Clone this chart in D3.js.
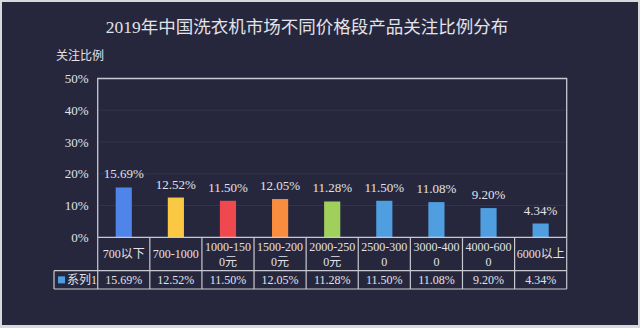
<!DOCTYPE html>
<html>
<head>
<meta charset="utf-8">
<script src="https://cdn.jsdelivr.net/npm/d3@7/dist/d3.min.js"></script>
<style>
  html, body { margin: 0; padding: 0; background: #d8d8dd; }
  svg { display: block; }
</style>
</head>
<body>
<svg id="chart" width="640" height="328"></svg>
<script>
// Price segments, attention share (%) and per-bar colours
const categories = ["700以下", "700-1000", "1000-1500元", "1500-2000元", "2000-2500元", "2500-3000", "3000-4000", "4000-6000", "6000以上"];
const values = [15.69, 12.52, 11.50, 12.05, 11.28, 11.50, 11.08, 9.20, 4.34];
const barColors = ["#4f84e8", "#fbc843", "#f0484f", "#f88c3f", "#a1cf5b", "#4f9fe0", "#4f9fe0", "#4f9fe0", "#4f9fe0"];
const yTicks = [0, 10, 20, 30, 40, 50];
const seriesName = "系列1";
const chartTitle = "2019年中国洗衣机市场不同价格段产品关注比例分布";
const yTitle = "关注比例";

const FONT = "'Liberation Serif', 'Noto Sans CJK SC', serif";
const TXT = "#e2e2e8";
const LINE = "#c9c9d2";

const svg = d3.select("#chart");

// outer frame
svg.append("rect").attr("x", 0).attr("y", 0).attr("width", 640).attr("height", 328).attr("fill", "#d8d8dd");
svg.append("rect").attr("x", 2).attr("y", 2).attr("width", 636).attr("height", 323).attr("fill", "#26273d");

const plot = { left: 97.7, right: 566.7, top: 78.5, bottom: 237.3 };
const rowCat = { top: 237.3, bottom: 270.7 };
const rowVal = { top: 270.7, bottom: 289 };
const legendLeft = 54;

const x = d3.scaleBand().domain(categories).range([plot.left, plot.right]).padding(0);
const y = d3.scaleLinear().domain([0, 50]).range([plot.bottom, plot.top]);

// title
svg.append("text")
  .attr("x", 307).attr("y", 33)
  .attr("text-anchor", "middle")
  .attr("fill", TXT)
  .style("font-family", FONT)
  .style("font-size", "17.5px")
  .text(chartTitle);

// axis title
svg.append("text")
  .attr("x", 56).attr("y", 60)
  .attr("fill", TXT)
  .style("font-family", FONT)
  .style("font-size", "12px")
  .text(yTitle);

// grid lines
svg.append("g")
  .selectAll("line")
  .data(yTicks.filter(t => t > 0 && t < 50))
  .join("line")
  .attr("x1", plot.left).attr("x2", plot.right)
  .attr("y1", d => y(d)).attr("y2", d => y(d))
  .attr("stroke", "#33344c").attr("stroke-width", 1);

// y axis labels
const yAxis = d3.axisLeft(y).tickValues(yTicks).tickFormat(d => d + "%").tickSize(0).tickPadding(9);
const ya = svg.append("g").attr("transform", `translate(${plot.left},0)`).call(yAxis);
ya.select(".domain").remove();
ya.selectAll("text")
  .attr("fill", TXT)
  .style("font-family", FONT)
  .style("font-size", "13px");

// bars
const barW = x.bandwidth() * 0.31;
svg.append("g")
  .selectAll("rect")
  .data(values)
  .join("rect")
  .attr("x", (d, i) => x(categories[i]) + x.bandwidth() / 2 - barW / 2)
  .attr("width", barW)
  .attr("y", d => y(d))
  .attr("height", d => y(0) - y(d))
  .attr("fill", (d, i) => barColors[i]);

// data labels
svg.append("g")
  .selectAll("text")
  .data(values)
  .join("text")
  .attr("x", (d, i) => x(categories[i]) + x.bandwidth() / 2)
  .attr("y", d => y(d) - 9)
  .attr("text-anchor", "middle")
  .attr("fill", TXT)
  .style("font-family", FONT)
  .style("font-size", "13px")
  .text(d => d.toFixed(2) + "%");

// plot frame (top, left, right)
svg.append("path")
  .attr("d", `M${plot.left},${plot.bottom}V${plot.top}H${plot.right}V${plot.bottom}`)
  .attr("fill", "none").attr("stroke", LINE).attr("stroke-width", 1.3);

// data table grid
const tg = svg.append("g").attr("stroke", LINE).attr("stroke-width", 1.2).attr("fill", "none");
tg.append("line").attr("x1", plot.left).attr("x2", plot.right).attr("y1", rowCat.top).attr("y2", rowCat.top);
tg.append("line").attr("x1", legendLeft).attr("x2", plot.right).attr("y1", rowVal.top).attr("y2", rowVal.top);
tg.append("line").attr("x1", legendLeft).attr("x2", plot.right).attr("y1", rowVal.bottom).attr("y2", rowVal.bottom);
tg.append("line").attr("x1", legendLeft).attr("x2", legendLeft).attr("y1", rowVal.top).attr("y2", rowVal.bottom);
tg.selectAll(".col")
  .data(categories.map(c => x(c)).concat([plot.right]))
  .join("line")
  .attr("x1", d => d).attr("x2", d => d)
  .attr("y1", rowCat.top).attr("y2", rowVal.bottom);

// category labels, wrapped every 8 characters
function wrap(s) {
  const arr = Array.from(s);
  if (arr.length <= 8) return [s];
  return [arr.slice(0, 8).join(""), arr.slice(8).join("")];
}
const catG = svg.append("g");
categories.forEach(c => {
  const lines = wrap(c);
  const cx = x(c) + x.bandwidth() / 2;
  const mid = (rowCat.top + rowCat.bottom) / 2;
  const lh = 15;
  lines.forEach((ln, k) => {
    catG.append("text")
      .attr("x", cx)
      .attr("y", mid + (k - (lines.length - 1) / 2) * lh)
      .attr("dy", "0.36em")
      .attr("text-anchor", "middle")
      .attr("fill", TXT)
      .style("font-family", FONT)
      .style("font-size", "12px")
      .text(ln);
  });
});

// value row
svg.append("g")
  .selectAll("text")
  .data(values)
  .join("text")
  .attr("x", (d, i) => x(categories[i]) + x.bandwidth() / 2)
  .attr("y", (rowVal.top + rowVal.bottom) / 2)
  .attr("dy", "0.36em")
  .attr("text-anchor", "middle")
  .attr("fill", TXT)
  .style("font-family", FONT)
  .style("font-size", "12px")
  .text(d => d.toFixed(2) + "%");

// legend key
const vmid = (rowVal.top + rowVal.bottom) / 2;
svg.append("rect")
  .attr("x", 58).attr("y", vmid - 3.5).attr("width", 7).attr("height", 7)
  .attr("fill", "#4f9fe0");
svg.append("text")
  .attr("x", 67).attr("y", vmid).attr("dy", "0.36em")
  .attr("fill", TXT)
  .style("font-family", FONT)
  .style("font-size", "12px")
  .text(seriesName);
</script>
</body>
</html>
